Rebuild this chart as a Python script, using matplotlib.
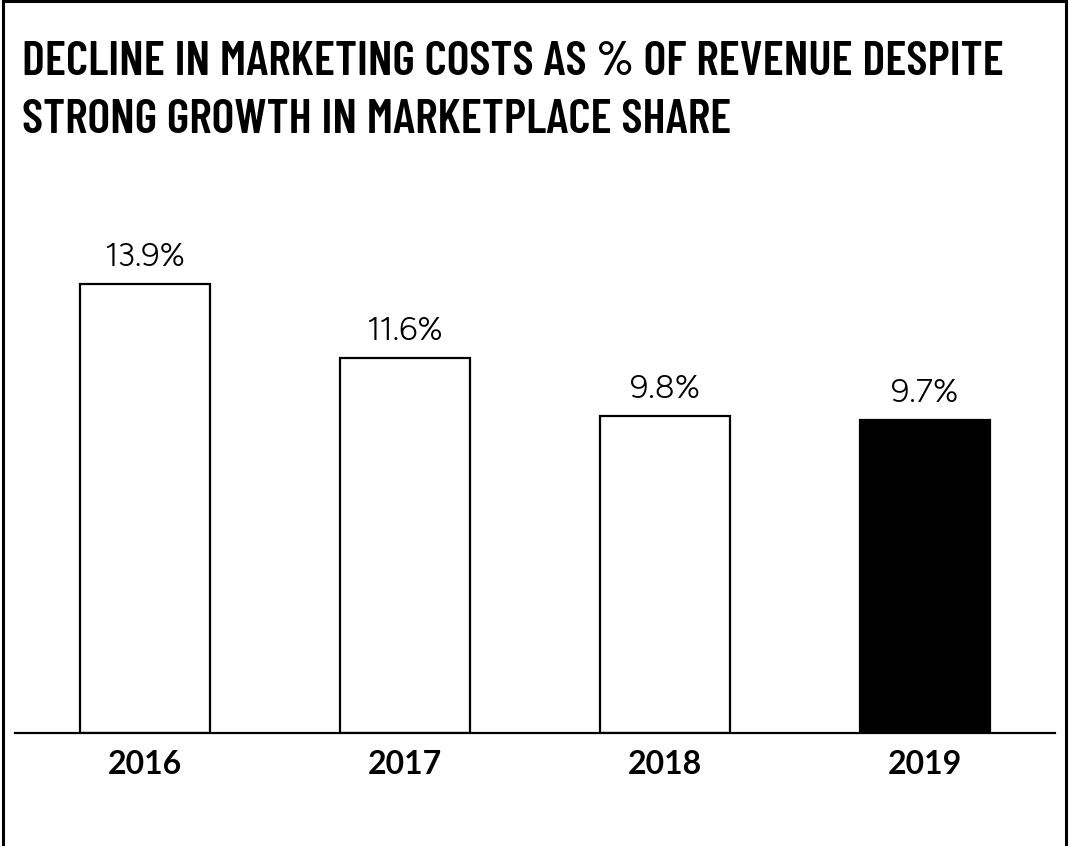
import matplotlib.pyplot as plt
from matplotlib.patches import Rectangle

# Marketing costs as share of revenue, per year
years = ['2016', '2017', '2018', '2019']
marketing_pct = [13.9, 11.6, 9.8, 9.7]
fill_colors = ['white', 'white', 'white', 'black']

title_lines = ['DECLINE IN MARKETING COSTS AS % OF REVENUE DESPITE',
               'STRONG GROWTH IN MARKETPLACE SHARE']

head_font = ['Barlow Condensed', 'DejaVu Sans']
value_font = ['Figtree', 'DejaVu Sans']
year_font = ['Lato', 'DejaVu Sans']

W, H = 1069, 846
fig = plt.figure(figsize=(W / 100, H / 100), dpi=100)
fig.patch.set_facecolor('white')

# axes placed in pixel terms: baseline at y=733, spans x 15..1055
ax = fig.add_axes([15 / W, (H - 733) / H, 1040 / W, 533 / H])
x = list(range(len(years)))
bars = ax.bar(x, marketing_pct, width=0.5, color=fill_colors,
              edgecolor='black', linewidth=1.6, zorder=2)
ax.set_xlim(-0.5, 3.5)
ax.set_ylim(0, 16.5)

ax.bar_label(bars, labels=[f'{v}%' for v in marketing_pct], padding=8,
             fontsize=23.5, family=value_font, color='black')

for side in ['top', 'left', 'right']:
    ax.spines[side].set_visible(False)
ax.spines['bottom'].set_linewidth(1.6)
ax.spines['bottom'].set_zorder(3)
ax.set_yticks([])
ax.set_xticks(x)
ax.set_xticklabels(years, fontsize=23, fontweight='bold', family=year_font)
ax.tick_params(axis='x', length=0, pad=12)

# two-line heading, baselines at 75px and 133px from the top
for line, base in zip(title_lines, [75, 133]):
    fig.text(22 / W, 1 - base / H, line, ha='left', va='baseline',
             fontsize=35, fontweight='semibold', family=head_font,
             color='black')

# frame around the whole graphic, open at the bottom edge
fig.patches.append(Rectangle((3 / W, -0.05), 1063 / W, 1.05 - 1.5 / H,
                             transform=fig.transFigure, fill=False,
                             edgecolor='black', linewidth=2.2))

fig.savefig('out.png', dpi=100)
